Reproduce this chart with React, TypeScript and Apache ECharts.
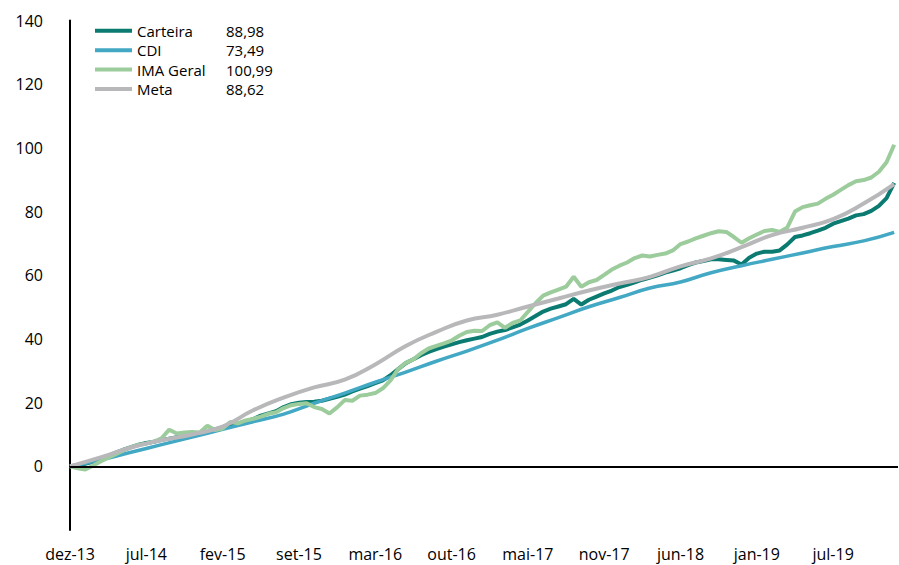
import { useEffect, useRef } from "react";
import * as echarts from "echarts";

// x tick labels, one every 10 steps of the sampled series
const xTickLabels = ["dez-13", "jul-14", "fev-15", "set-15", "mar-16", "out-16", "mai-17", "nov-17", "jun-18", "jan-19", "jul-19"];

const seriesNames = ["Carteira", "CDI", "IMA Geral", "Meta"];
const finalValues = ["88,98", "73,49", "100,99", "88,62"];

// fine series: one value per step (0..108)
const carteira = [
  0, 0.3, 0.8, 1.4, 2.4, 3.3, 4.3, 5.2, 6.0, 6.8, 7.3, 7.7, 8.3, 8.7, 9.1, 9.4, 9.7, 10.2, 10.9, 11.6, 12.3, 12.9, 13.4, 14.0, 14.8, 15.9, 16.6, 17.3,
  18.6, 19.5, 20.0, 20.2, 20.3, 20.6, 21.2, 21.8, 22.5, 23.5, 24.4, 25.2, 26.1, 27.0, 28.6, 30.5, 32.4, 33.6, 34.9, 35.9, 36.8, 37.6, 38.3, 39.0, 39.6, 40.1, 40.6,
  41.6, 42.3, 42.8, 43.6, 44.5, 45.8, 47.2, 48.6, 49.5, 50.2, 50.9, 52.6, 50.8, 52.3, 53.3, 54.3, 55.2, 56.3, 57.0, 57.8, 58.6, 59.3, 60.0, 60.8, 61.5,
  62.2, 63.2, 64.0, 64.5, 65.0, 65.0, 64.8, 64.6, 63.4, 65.5, 66.8, 67.4, 67.4, 67.8, 69.7, 72.0, 72.5, 73.2, 74.0, 74.9, 76.2, 77.0, 77.8, 78.8, 79.2, 80.2, 81.8, 84.2, 88.98,
];

const imaGeral = [
  0, -0.6, -1.0, 0.2, 1.5, 2.7, 3.8, 5.0, 6.0, 6.8, 7.1, 7.8, 8.8, 11.5, 10.3, 10.6, 10.8, 10.6, 12.7, 11.4, 11.9, 13.9, 13.5, 14.4, 14.9, 15.6, 16.5, 17.0,
  18.3, 19.2, 19.6, 19.8, 18.6, 18.0, 16.6, 18.5, 20.8, 20.6, 22.2, 22.5, 23.0, 24.5, 27.0, 30.5, 32.5, 33.6, 35.5, 37.0, 37.8, 38.6, 39.5, 41.0, 42.2, 42.6, 42.5,
  44.3, 45.2, 43.5, 45.0, 45.8, 48.5, 51.2, 53.6, 54.6, 55.5, 56.4, 59.5, 56.4, 57.8, 58.5, 60.1, 61.8, 63.0, 64.0, 65.4, 66.2, 65.9, 66.4, 66.8, 67.8,
  69.8, 70.6, 71.6, 72.4, 73.2, 73.8, 73.6, 72.0, 70.2, 71.6, 72.8, 73.9, 74.2, 73.6, 75.0, 80.0, 81.4, 82.0, 82.5, 84.0, 85.3, 86.8, 88.3, 89.5, 89.9, 90.7, 92.5, 95.5, 100.99,
];

// coarse (smooth) series: one value every 4 steps (0, 4, ..., 108)
const coarseStep = 4;
const cdi = [0, 2.0, 4.4, 6.8, 9.2, 11.6, 14.0, 16.4, 19.8, 23.0, 26.4, 29.6, 33.0, 36.2, 39.6, 43.3, 46.7, 50.1, 53.0, 56.0, 57.9, 60.8, 63.0, 65.0, 67.0, 69.0, 70.8, 73.49];
const meta = [0, 2.8, 5.9, 8.2, 10.0, 12.5, 17.6, 21.6, 24.8, 27.2, 32.0, 37.8, 42.2, 45.8, 47.6, 50.2, 52.7, 55.2, 57.4, 59.5, 62.8, 65.3, 68.8, 72.6, 74.9, 77.6, 82.5, 88.62];

const colors = ["#0b7b71", "#42a8c3", "#9ccc9c", "#b8b8bb"];

export default function App() {
  const ref = useRef<HTMLDivElement>(null);

  useEffect(() => {
    if (!ref.current) return;
    const chart = echarts.init(ref.current, null, { renderer: "svg" });
    const font = "Open Sans";
    const fine = (arr: number[]) => arr.map((v, i) => [i, v]);
    const coarse = (arr: number[]) => arr.map((v, i) => [i * coarseStep, v]);

    chart.setOption({
      animation: false,
      backgroundColor: "#ffffff",
      textStyle: { fontFamily: font },
      grid: { left: 70, right: 1, top: 20.5, bottom: 35, containLabel: false },
      legend: {
        orient: "vertical",
        left: 95,
        top: 23.3,
        padding: 0,
        itemWidth: 37,
        itemHeight: 4,
        itemGap: 4.4,
        icon: "rect",
        data: seriesNames,
        formatter: (name: string) => {
          const idx = seriesNames.indexOf(name);
          return `{n|${name}}{v|${finalValues[idx]}}`;
        },
        textStyle: {
          fontFamily: font,
          rich: {
            n: { width: 89, fontSize: 15, color: "#000", fontFamily: font },
            v: { fontSize: 15, color: "#000", fontFamily: font },
          },
        },
      },
      xAxis: {
        type: "value",
        min: 0,
        max: 108.5,
        interval: 10,
        axisLine: { show: false, onZero: false },
        axisTick: { show: false },
        splitLine: { show: false },
        axisLabel: {
          showMaxLabel: false,
          margin: 16,
          fontSize: 16,
          color: "#000",
          fontFamily: font,
          formatter: (v: number) => {
            const k = Math.round(v / 10);
            return Math.abs(v - k * 10) < 1e-6 && xTickLabels[k] ? xTickLabels[k] : "";
          },
        },
      },
      yAxis: {
        type: "value",
        min: -20,
        max: 140,
        interval: 20,
        axisLine: { show: true, onZero: false, lineStyle: { color: "#000", width: 2 } },
        axisTick: { show: false },
        splitLine: { show: false },
        axisLabel: {
          margin: 27,
          fontSize: 16,
          color: "#000",
          fontFamily: font,
          formatter: (v: number) => (v < 0 ? "" : String(v)),
        },
      },
      series: [
        {
          name: "Carteira",
          type: "line",
          data: fine(carteira),
          showSymbol: false,
          symbol: "none",
          color: colors[0],
          lineStyle: { width: 4, color: colors[0] },
          markLine: {
            silent: true,
            symbol: "none",
            label: { show: false },
            lineStyle: { color: "#000", width: 2, type: "solid" },
            data: [{ yAxis: 0 }],
          },
        },
        {
          name: "CDI",
          type: "line",
          data: coarse(cdi),
          smooth: true,
          showSymbol: false,
          symbol: "none",
          color: colors[1],
          lineStyle: { width: 3.5, color: colors[1] },
        },
        {
          name: "IMA Geral",
          type: "line",
          data: fine(imaGeral),
          showSymbol: false,
          symbol: "none",
          color: colors[2],
          lineStyle: { width: 4, color: colors[2] },
        },
        {
          name: "Meta",
          type: "line",
          data: coarse(meta),
          smooth: true,
          showSymbol: false,
          symbol: "none",
          color: colors[3],
          lineStyle: { width: 4, color: colors[3] },
        },
      ],
    });

    return () => chart.dispose();
  }, []);

  return (
    <div
      ref={ref}
      style={{ position: "fixed", left: 0, top: 0, width: 899, height: 565, background: "#fff" }}
    />
  );
}
